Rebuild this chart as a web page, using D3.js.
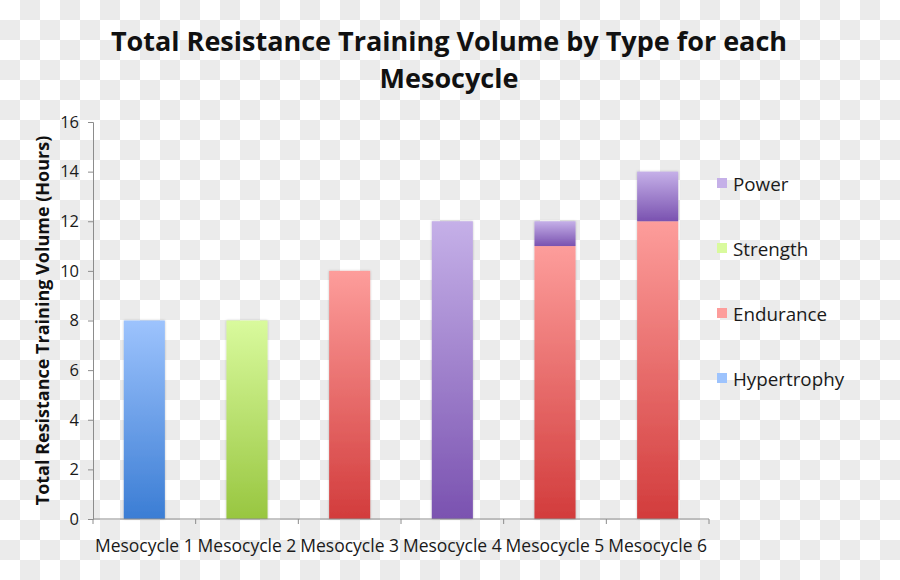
<!DOCTYPE html>
<meta charset="utf-8">
<style>
body { margin: 0; }
svg { display: block; }
.axis text { font-family: "Open Sans", sans-serif; fill: #1a1a1a; }
.axis path, .axis line { stroke: #8c8c8c; }
</style>
<body>
<svg width="900" height="580"></svg>
<script src="https://d3js.org/d3.v7.min.js"></script>
<script>

var categories = ["Mesocycle 1", "Mesocycle 2", "Mesocycle 3", "Mesocycle 4", "Mesocycle 5", "Mesocycle 6"];
var types = ["Hypertrophy", "Endurance", "Strength", "Power"];
var legendOrder = ["Power", "Strength", "Endurance", "Hypertrophy"];
var hypertrophy = [8, 0, 0, 0, 0, 0];
var endurance = [0, 0, 10, 0, 11, 12];
var strength = [0, 8, 0, 0, 0, 0];
var power = [0, 0, 0, 12, 1, 2];
var yTicks = [0, 2, 4, 6, 8, 10, 12, 14, 16];

var colors = {
  Hypertrophy: ["#9dc3fd", "#3b7dd4"],
  Endurance: ["#fd9d9b", "#d23c3c"],
  Strength: ["#d9fa9d", "#98c640"],
  Power: ["#c5b0e8", "#7a52b0"]
};

var svg = d3.select("svg"),
    margin = {top: 122, right: 191, bottom: 61, left: 93},
    width = +svg.attr("width") - margin.left - margin.right,
    height = +svg.attr("height") - margin.top - margin.bottom;

// checkerboard backdrop
var defs = svg.append("defs");
var pat = defs.append("pattern")
    .attr("id", "checker")
    .attr("width", 40).attr("height", 40)
    .attr("patternUnits", "userSpaceOnUse");
pat.append("rect").attr("width", 40).attr("height", 40).attr("fill", "#fff");
pat.append("rect").attr("x", 20).attr("width", 20).attr("height", 20).attr("fill", "#ebebeb");
pat.append("rect").attr("y", 20).attr("width", 20).attr("height", 20).attr("fill", "#ebebeb");
svg.append("rect").attr("width", 900).attr("height", 580).attr("fill", "url(#checker)");

types.forEach(function(t) {
  var g = defs.append("linearGradient")
      .attr("id", "grad-" + t)
      .attr("x1", 0).attr("y1", 0).attr("x2", 0).attr("y2", 1);
  g.append("stop").attr("offset", "0%").attr("stop-color", colors[t][0]);
  g.append("stop").attr("offset", "100%").attr("stop-color", colors[t][1]);
});

var shadow = defs.append("filter").attr("id", "shadow")
    .attr("x", "-20%").attr("y", "-5%").attr("width", "140%").attr("height", "110%");
shadow.append("feDropShadow")
    .attr("dx", 0).attr("dy", 0).attr("stdDeviation", 1)
    .attr("flood-color", "#000").attr("flood-opacity", 0.25);

var data = categories.map(function(c, i) {
  return {cat: c, Hypertrophy: hypertrophy[i], Endurance: endurance[i], Strength: strength[i], Power: power[i]};
});

var x = d3.scaleBand().domain(categories).range([0, width]).paddingInner(0.6).paddingOuter(0.3);
var y = d3.scaleLinear().domain([0, 16]).range([height, 0]);

var stack = d3.stack().keys(types)(data);

var g = svg.append("g").attr("transform", "translate(" + margin.left + "," + margin.top + ")");

g.append("g").attr("filter", "url(#shadow)")
  .selectAll("g")
  .data(stack)
  .enter().append("g")
    .attr("fill", function(d) { return "url(#grad-" + d.key + ")"; })
  .selectAll("rect")
  .data(function(d) { return d.filter(function(s) { return s[1] > s[0]; }); })
  .enter().append("rect")
    .attr("x", function(d) { return x(d.data.cat); })
    .attr("y", function(d) { return y(d[1]); })
    .attr("width", x.bandwidth())
    .attr("height", function(d) { return y(d[0]) - y(d[1]); });

// y axis
var yAxis = g.append("g")
    .attr("class", "axis")
    .call(d3.axisLeft(y).tickValues(yTicks).tickSize(5).tickSizeOuter(5).tickPadding(9));
yAxis.selectAll("text").attr("font-size", 16.5);

// x axis, ticks sit on the category boundaries
var xAxis = g.append("g")
    .attr("class", "axis")
    .attr("transform", "translate(0," + height + ")");
xAxis.append("path")
    .attr("d", "M0,0H" + width)
    .attr("fill", "none");
var bounds = d3.range(categories.length + 1).map(function(i) { return i * width / categories.length; });
xAxis.selectAll("line.tk")
  .data(bounds)
  .enter().append("line")
    .attr("class", "tk")
    .attr("x1", function(d) { return d; }).attr("x2", function(d) { return d; })
    .attr("y1", 0).attr("y2", 5);
xAxis.selectAll("text")
  .data(categories)
  .enter().append("text")
    .attr("x", function(d) { return x(d) + x.bandwidth() / 2; })
    .attr("y", 33)
    .attr("text-anchor", "middle")
    .attr("font-size", 17.5)
    .text(function(d) { return d; });

// y label
svg.append("text")
    .attr("transform", "translate(49," + (margin.top + height / 2) + ") rotate(-90)")
    .attr("text-anchor", "middle")
    .attr("font-family", "Open Sans, sans-serif")
    .attr("font-weight", "bold")
    .attr("font-size", 18)
    .attr("fill", "#111")
    .text("Total Resistance Training Volume (Hours)");

// title
var title = svg.append("text")
    .attr("text-anchor", "middle")
    .attr("font-family", "Open Sans, sans-serif")
    .attr("font-weight", "bold")
    .attr("font-size", 27)
    .attr("fill", "#111");
title.append("tspan").attr("x", 449).attr("y", 51).text("Total Resistance Training Volume by Type for each");
title.append("tspan").attr("x", 449).attr("y", 88).text("Mesocycle");

// legend
var legend = svg.append("g")
    .selectAll("g")
    .data(legendOrder)
    .enter().append("g")
    .attr("transform", function(d, i) { return "translate(717," + (184 + i * 65) + ")"; });
legend.append("rect")
    .attr("x", 0).attr("y", -6)
    .attr("width", 10).attr("height", 10)
    .attr("fill", function(d) { return colors[d][0]; });
legend.append("text")
    .attr("x", 16)
    .attr("y", 0)
    .attr("dy", "0.35em")
    .attr("font-family", "Open Sans, sans-serif")
    .attr("font-size", 18.8)
    .attr("fill", "#1a1a1a")
    .text(function(d) { return d; });

</script>
</body>
